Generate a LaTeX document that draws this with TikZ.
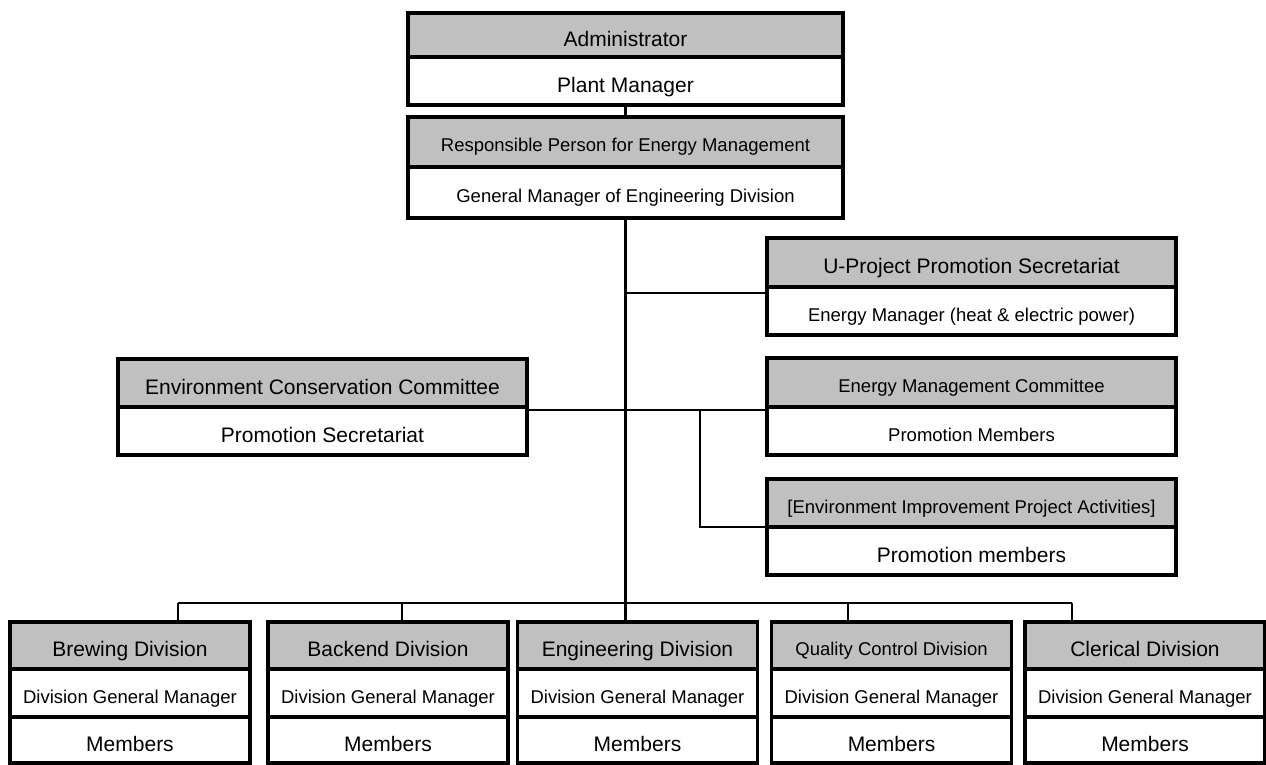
\documentclass[tikz,border=0pt]{standalone}
\usepackage{fontspec}
\setmainfont{Liberation Sans}
\usepackage{tikz}
\usetikzlibrary{positioning}
\definecolor{headgray}{RGB}{192,192,192}
\tikzset{
  row/.style={draw, line width=3.5pt, outer sep=0pt, inner sep=0pt, align=center,
    text depth=0pt},
  head/.style={row, fill=headgray},
  body/.style={row, fill=white},
  big/.style={font=\fontsize{21}{25}\selectfont, text height=22.5pt},
  small/.style={font=\fontsize{18.5}{22}\selectfont, text height=20pt},
  wide/.style={minimum width=409pt},
  div/.style={minimum width=240pt},
  thick line/.style={line width=3pt},
  thin line/.style={line width=1.5pt}
}

\begin{document}
\begin{tikzpicture}[x=1pt,y=-1pt]
\useasboundingbox (0,0) rectangle (1266,765);

% top of the chart
\node[head,big,minimum width=435pt,minimum height=44pt] (admin) at (625.5,35) {Administrator};
\node[body,big,minimum width=435pt,minimum height=48pt,below=0pt of admin] (plant) {Plant Manager};
\node[head,small,minimum width=435pt,minimum height=50pt] (resp) at (625.5,142) {Responsible Person for Energy Management};
\node[body,small,minimum width=435pt,minimum height=51pt,below=0pt of resp] (gm) {General Manager of Engineering Division};

% side boxes
\node[head,big,wide,minimum height=49pt] (uproj) at (971.5,262.5) {U-Project Promotion Secretariat};
\node[body,small,wide,minimum height=48pt,below=0pt of uproj] (emgr) {Energy Manager (heat \& electric power)};
\node[head,small,wide,minimum height=49pt] (emc) at (971.5,382.5) {Energy Management Committee};
\node[body,small,wide,minimum height=48pt,below=0pt of emc] (pmem) {Promotion Members};
\node[head,small,wide,minimum height=48pt] (eip) at (971.5,503) {[Environment Improvement Project Activities]};
\node[body,big,wide,minimum height=48pt,below=0pt of eip] (pmem-2) {Promotion members};
\node[head,big,wide,minimum height=48pt] (ecc) at (322.5,383) {Environment Conservation Committee};
\node[body,big,wide,minimum height=48pt,below=0pt of ecc] (psec) {Promotion Secretariat};

% divisions
\node[head,big,div,minimum height=47pt] (brew) at (130,645.5) {Brewing Division};
\node[body,small,div,minimum height=48pt,below=0pt of brew] (brew-gm) {Division General Manager};
\node[body,big,div,minimum height=46pt,below=0pt of brew-gm] (brew-mem) {Members};

\node[head,big,div,minimum height=47pt] (back) at (388,645.5) {Backend Division};
\node[body,small,div,minimum height=48pt,below=0pt of back] (back-gm) {Division General Manager};
\node[body,big,div,minimum height=46pt,below=0pt of back-gm] (back-mem) {Members};

\node[head,big,div,minimum height=47pt] (eng) at (637.5,645.5) {Engineering Division};
\node[body,small,div,minimum height=48pt,below=0pt of eng] (eng-gm) {Division General Manager};
\node[body,big,div,minimum height=46pt,below=0pt of eng-gm] (eng-mem) {Members};

\node[head,small,div,minimum height=47pt] (qc) at (891.5,645.5) {Quality Control Division};
\node[body,small,div,minimum height=48pt,below=0pt of qc] (qc-gm) {Division General Manager};
\node[body,big,div,minimum height=46pt,below=0pt of qc-gm] (qc-mem) {Members};

\node[head,big,div,minimum height=47pt] (cler) at (1145,645.5) {Clerical Division};
\node[body,small,div,minimum height=48pt,below=0pt of cler] (cler-gm) {Division General Manager};
\node[body,big,div,minimum height=46pt,below=0pt of cler-gm] (cler-mem) {Members};

% main line
\draw[thick line] (plant.south -| 625,0) -- (resp.north -| 625,0);
\draw[thick line] (gm.south -| 625,0) -- (eng.north -| 625,0);

% side connectors
\coordinate (split) at (700,410);
\draw[thin line] ([yshift=-6pt]uproj.south west) -- ([yshift=-6pt]uproj.south west -| 625,0);
\draw[thin line] ([yshift=-3pt]ecc.south east) -- ([yshift=-3pt]emc.south west);
\draw[thin line] (split) |- (eip.south west);

% bus to divisions
\coordinate (tap-1) at (178,603);
\coordinate (tap-2) at (402,603);
\coordinate (tap-3) at (625,603);
\coordinate (tap-4) at (848,603);
\coordinate (tap-5) at (1072,603);
\draw[thin line] (tap-1) -- (tap-5);
\draw[thin line] (tap-1) -- (tap-1 |- brew.north);
\draw[thin line] (tap-2) -- (tap-2 |- back.north);
\draw[thin line] (tap-4) -- (tap-4 |- qc.north);
\draw[line width=2.5pt] (tap-5) -- (tap-5 |- cler.north);
\end{tikzpicture}
\end{document}
